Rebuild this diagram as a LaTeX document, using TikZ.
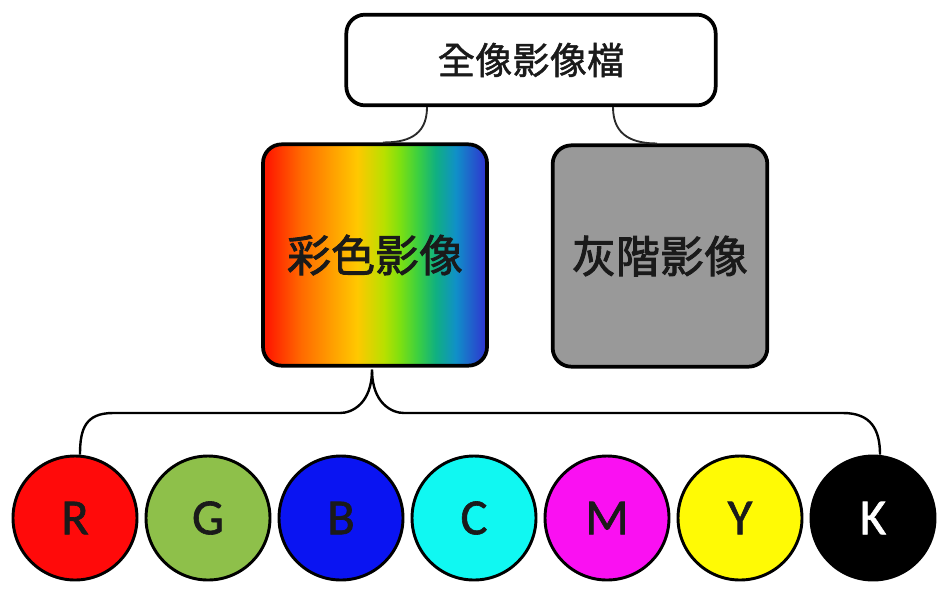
\documentclass[tikz,border=0pt]{standalone}
\usepackage{fontspec}
\setmainfont{Carlito}
\newfontfamily\ballfont[FakeBold=1.2]{Carlito}
\newfontfamily\cjk[FakeBold=1.3]{Noto Sans CJK TC}
\newfontfamily\cjkm[FakeBold=2]{Noto Sans CJK TC}
\usetikzlibrary{calc}
\definecolor{txt}{HTML}{1A1A1A}
\definecolor{conn}{HTML}{2A2A2A}
\definecolor{grayfill}{HTML}{999999}
\definecolor{cR}{HTML}{FF0A0A}
\definecolor{cG}{HTML}{8EC04A}
\definecolor{cB}{HTML}{0A14F2}
\definecolor{cC}{HTML}{10F8F2}
\definecolor{cM}{HTML}{FA10F2}
\definecolor{cY}{HTML}{FFFA05}
\definecolor{cK}{HTML}{000000}
\definecolor{s0}{HTML}{FF1A00}
\definecolor{s1}{HTML}{FF6A00}
\definecolor{s2}{HTML}{FFA000}
\definecolor{s3}{HTML}{FFC800}
\definecolor{s4}{HTML}{B8E000}
\definecolor{s5}{HTML}{7EE010}
\definecolor{s6}{HTML}{3CD040}
\definecolor{s7}{HTML}{10B080}
\definecolor{s8}{HTML}{1090C8}
\definecolor{s9}{HTML}{3030D0}
\pgfdeclarehorizontalshading{rainbow}{100bp}{%
  color(0bp)=(s0);
  color(26bp)=(s0);
  color(33.5bp)=(s1);
  color(40.5bp)=(s2);
  color(46bp)=(s3);
  color(52bp)=(s4);
  color(55.5bp)=(s5);
  color(59.5bp)=(s6);
  color(63.5bp)=(s7);
  color(68bp)=(s8);
  color(75bp)=(s9);
  color(100bp)=(s9)}
\tikzset{
  topbox/.style={draw=black, line width=2.8pt, rounded corners=14pt, fill=white,
    minimum width=277pt, minimum height=68pt, text=txt, font=\cjk\fontsize{28pt}{30pt}\selectfont},
  midbox/.style={draw=black, line width=2.8pt, rounded corners=14pt,
    text=txt, font=\cjkm\fontsize{33pt}{36pt}\selectfont},
  ball/.style={circle, draw=black, line width=2.2pt, minimum size=93pt, inner sep=0pt,
    text=txt, font=\ballfont\fontsize{38pt}{40pt}\selectfont},
  link/.style={draw=conn, line width=1.4pt},
  brace/.style={draw=black, line width=1.8pt}
}
\begin{document}
\begin{tikzpicture}[x=0.75pt,y=-0.75pt]
\useasboundingbox (0,0) rectangle (937,597);
\node[topbox] (top) at (531,60) {全像影像檔};
\node[midbox, shading=rainbow, minimum width=168pt, minimum height=166pt] (color) at (375,255) {彩色影像};
\node[midbox, fill=grayfill, minimum width=161pt, minimum height=166pt] (gray) at (660,256) {灰階影像};
\node[ball, fill=cR] (R) at (75,518) {R};
\node[ball, fill=cG] (G) at (208,518) {G};
\node[ball, fill=cB] (B) at (341,518) {B};
\node[ball, fill=cC] (C) at (474,518) {C};
\node[ball, fill=cM] (M) at (607,518) {M};
\node[ball, fill=cY] (Y) at (740,518) {Y};
\node[ball, fill=cK, text=white] (K) at (873,518) {K};
% top connectors
\draw[link] ($(top.south)+(-104,0)$) .. controls +(0,30) and +(22,0) .. ($(color.north)+(8,0)$);
\draw[link] ($(top.south)+(82,0)$) .. controls +(0,30) and +(-22,0) .. ($(gray.north)+(-3,0)$);
% brace
\coordinate (bar) at (0,413);
\draw[brace] ($(color.south)+(-3,2)$) .. controls +(0,34) and +(12,0) .. ($(color.south |- bar)+(-35,0)$)
  -- ($(R.north |- bar)+(38,0)$) .. controls +(-28,0) and +(0,-25) .. ($(R.north)+(5,0)$);
\draw[brace] ($(color.south)+(-3,2)$) .. controls +(0,34) and +(-12,0) .. ($(color.south |- bar)+(29,0)$)
  -- ($(K.north |- bar)+(-30,0)$) .. controls +(28,0) and +(0,-25) .. ($(K.north)+(7,0)$);
\end{tikzpicture}
\end{document}
